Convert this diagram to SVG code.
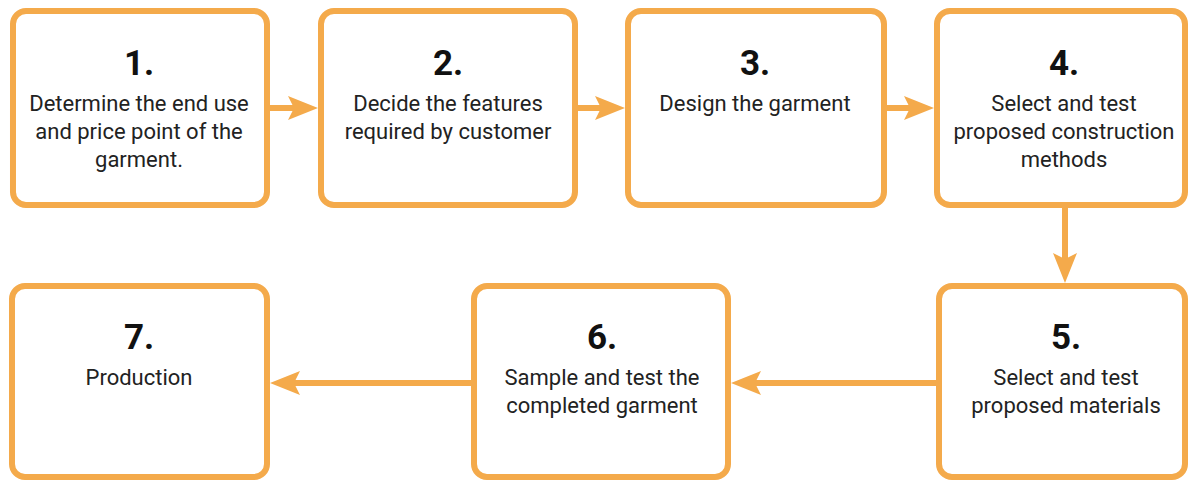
<svg xmlns="http://www.w3.org/2000/svg" width="1190" height="482" viewBox="0 0 1190 482">
<style>
.box{fill:#fff;stroke:#F4AA4B;stroke-width:6}
.num{font-family:Roboto,"Liberation Sans",sans-serif;font-weight:700;font-size:35px;fill:#111;text-anchor:middle}
.txt{font-family:Roboto,"Liberation Sans",sans-serif;font-size:22px;fill:#222;text-anchor:middle}
.con{stroke:#F4AA4B;stroke-width:6;fill:none}
.head{fill:#F4AA4B}
</style>
<rect width="1190" height="482" fill="#fff"/>
<g id="node1"><rect class="box" x="13" y="11" width="254" height="194" rx="13"/>
<text class="num" x="139" y="75">1.</text>
<text class="txt" x="139" y="111">Determine the end use</text>
<text class="txt" x="139" y="139">and price point of the</text>
<text class="txt" x="139" y="167">garment.</text></g>
<g id="node2"><rect class="box" x="321" y="11" width="254" height="194" rx="13"/>
<text class="num" x="448" y="75">2.</text>
<text class="txt" x="448" y="111">Decide the features</text>
<text class="txt" x="448" y="139">required by customer</text></g>
<g id="node3"><rect class="box" x="628" y="11" width="256" height="194" rx="13"/>
<text class="num" x="755" y="75">3.</text>
<text class="txt" x="755" y="111">Design the garment</text></g>
<g id="node4"><rect class="box" x="937" y="11" width="248" height="194" rx="13"/>
<text class="num" x="1064" y="75">4.</text>
<text class="txt" x="1064" y="111">Select and test</text>
<text class="txt" x="1064" y="139">proposed construction</text>
<text class="txt" x="1064" y="167">methods</text></g>
<g id="node5"><rect class="box" x="939" y="286" width="246" height="191" rx="13"/>
<text class="num" x="1066" y="349">5.</text>
<text class="txt" x="1066" y="385">Select and test</text>
<text class="txt" x="1066" y="413">proposed materials</text></g>
<g id="node6"><rect class="box" x="474" y="286" width="254" height="191" rx="13"/>
<text class="num" x="602" y="349">6.</text>
<text class="txt" x="602" y="385">Sample and test the</text>
<text class="txt" x="602" y="413">completed garment</text></g>
<g id="node7"><rect class="box" x="12" y="286" width="255" height="191" rx="13"/>
<text class="num" x="139" y="349">7.</text>
<text class="txt" x="139" y="385">Production</text></g>
<g id="connectors">
<line class="con" x1="270" y1="108" x2="300" y2="108"/>
<path class="head" d="M318,108 L288,96 L294,108 L288,120 Z"/>
<line class="con" x1="578" y1="108" x2="607" y2="108"/>
<path class="head" d="M625,108 L595,96 L601,108 L595,120 Z"/>
<line class="con" x1="887" y1="108" x2="916" y2="108"/>
<path class="head" d="M934,108 L904,96 L910,108 L904,120 Z"/>
<line class="con" x1="1065" y1="208" x2="1065" y2="265"/>
<path class="head" d="M1065,283 L1053,253 L1065,259 L1077,253 Z"/>
<line class="con" x1="936" y1="383" x2="750" y2="383"/>
<path class="head" d="M731,383 L761,371 L755,383 L761,395 Z"/>
<line class="con" x1="471" y1="383" x2="288" y2="383"/>
<path class="head" d="M270,383 L300,371 L294,383 L300,395 Z"/>
</g>
</svg>
